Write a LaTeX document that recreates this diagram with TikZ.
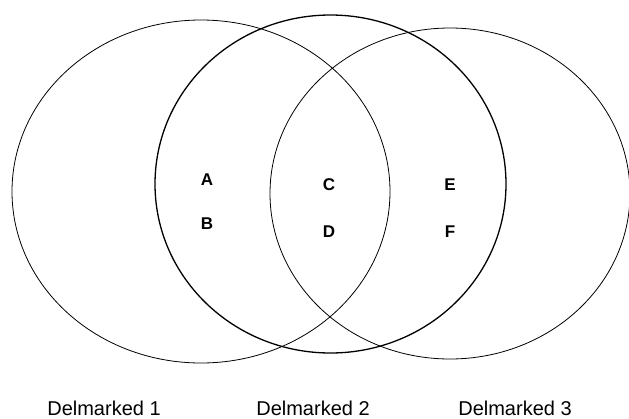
\documentclass[tikz,border=0pt]{standalone}
\usepackage{fontspec}
\setmainfont{Liberation Sans}
\usetikzlibrary{shapes.geometric}
\begin{document}
\begin{tikzpicture}[x=1pt,y=-1pt,
  ring/.style={draw=black, line width=0.8pt, ellipse, inner sep=0pt},
  ringthick/.style={ring, line width=1.3pt},
  lab/.style={font=\fontsize{17}{17}\selectfont\bfseries, inner sep=0pt},
  caption/.style={font=\fontsize{20}{20}\selectfont, anchor=base, inner sep=0pt}]
\useasboundingbox (0,0) rectangle (629,418);
\node[ring, minimum width=378pt, minimum height=343pt] (s1) at (201,191.5) {};
\node[ring, minimum width=360pt, minimum height=331pt] (s3) at (450,193.5) {};
\node[ringthick, minimum width=351pt, minimum height=338pt] (s2) at (330.5,184) {};
\node[lab] (a) at (207,180) {A};
\node[lab] (b) at (207,224) {B};
\node[lab] (c) at (329,185) {C};
\node[lab] (d) at (329,231.5) {D};
\node[lab] (e) at (450,185) {E};
\node[lab] (f) at (450,232) {F};
\node[caption] (d1) at (104,415) {Delmarked 1};
\node[caption] (d2) at (313,415) {Delmarked 2};
\node[caption] (d3) at (515,415) {Delmarked 3};
\end{tikzpicture}
\end{document}
